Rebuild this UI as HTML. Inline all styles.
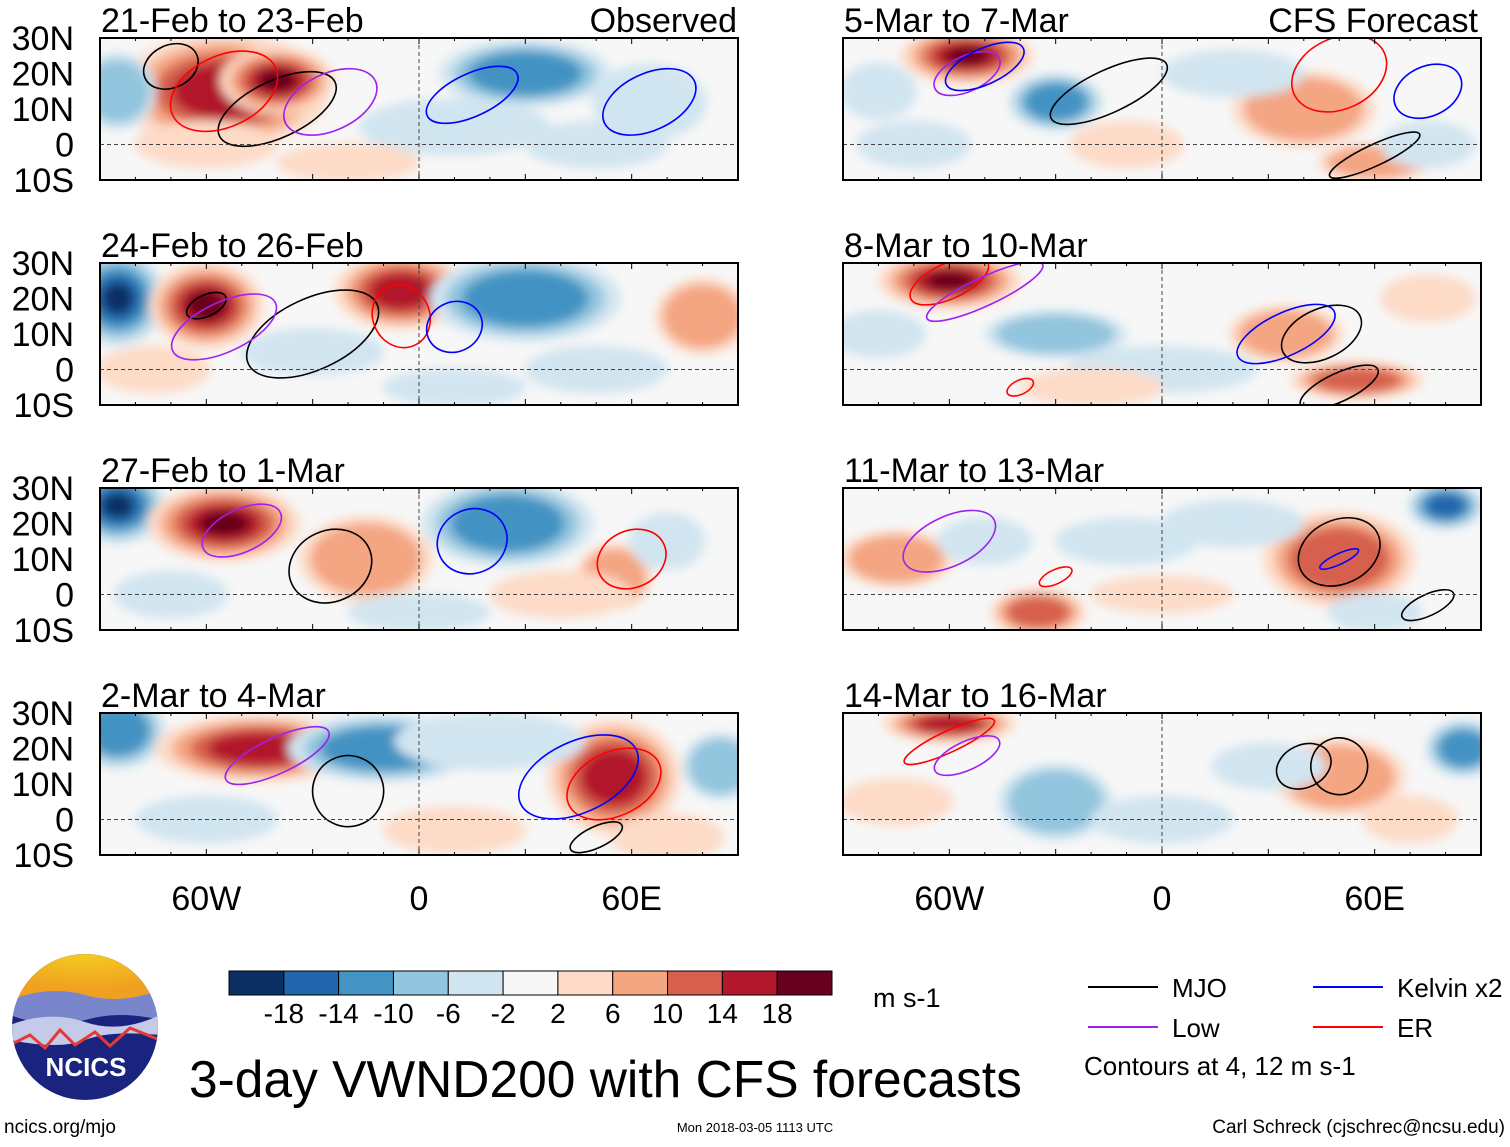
<!DOCTYPE html>
<html><head><meta charset="utf-8">
<style>
body{margin:0;background:#fff;}
svg text{font-family:"Liberation Sans",sans-serif;}
</style></head>
<body>
<svg id="c" width="1510" height="1142" viewBox="0 0 1510 1142" xmlns="http://www.w3.org/2000/svg">
<defs>
<filter id="bl" x="-50%" y="-50%" width="200%" height="200%"><feGaussianBlur stdDeviation="5"/></filter>
<radialGradient id="sky" cx="50%" cy="0%" r="80%"><stop offset="0" stop-color="#f5d020"/><stop offset="1" stop-color="#f0a020"/></radialGradient>
</defs>
</svg>
<script>
const titles=["21-Feb to 23-Feb","24-Feb to 26-Feb","27-Feb to 1-Mar","2-Mar to 4-Mar","5-Mar to 7-Mar","8-Mar to 10-Mar","11-Mar to 13-Mar","14-Mar to 16-Mar"];
const latTicks=["30N","20N","10N","0","10S"];
const lonTicks=["60W","0","60E"];
const cbLabels=["-18","-14","-10","-6","-2","2","6","10","14","18"];
const cbColors=["#0b2f63","#2166ac","#4393c3","#92c5de","#d1e5f0","#f7f7f7","#fddbc7","#f4a582","#d6604d","#b2182b","#67001f"];
// anomaly blobs per panel: lon, lat, rx(deg), ry(deg), value
const blobLon=[[-55,-40,-85,30,65,10,-60,50,-20],[-85,-60,-5,30,80,-30,50,-75,10],[-85,-55,-15,25,55,70,-70,40,0],[-85,-45,-10,55,85,20,-60,10,70],[-55,-30,40,60,-80,20,-10,-70,75],[-60,55,35,-30,0,-80,75,-20],[50,-35,80,-75,-10,20,-50,0,60],[-60,50,-30,85,30,-75,0,70]];
const blobLat=[[15,18,15,20,12,5,0,0,-5],[20,18,22,20,15,5,0,0,-5],[25,20,10,20,5,15,0,0,-5],[25,20,20,12,15,22,0,-3,-5],[25,12,10,-5,15,20,0,0,0],[25,-3,10,10,0,10,20,-5],[10,-5,25,10,15,20,15,0,-5],[27,12,5,20,15,5,0,0]];
const blobRx=[[22,12,8,18,12,20,15,15,15],[10,12,14,20,10,15,15,12,15],[10,16,14,18,8,8,12,15,15],[10,22,20,14,8,20,15,15,12],[14,10,15,12,8,15,12,12,10],[15,14,12,15,20,10,10,15],[16,10,8,12,15,15,10,15,10],[14,14,12,8,12,12,15,10]];
const blobRy=[[12,7,8,7,8,6,5,5,4],[10,9,8,9,8,5,5,5,4],[8,8,9,9,7,6,5,5,4],[8,7,7,12,7,6,5,5,5],[6,6,8,4,6,5,5,5,5],[6,4,6,5,5,5,5,4],[10,5,5,6,5,5,5,4,4],[4,8,8,6,5,5,5,5]];
const blobVal=[[14,18,-6,-10,-3,-3,4,-3,3],[-18,18,14,-10,6,-3,-3,3,-3],[-18,18,6,-10,6,-3,-3,4,-3],[-10,14,-10,14,-6,-3,-3,4,3],[18,-10,6,6,-3,-3,3,-3,-3],[18,10,6,-6,-3,-3,3,3],[10,10,-14,6,-3,-3,-3,3,-3],[14,6,-6,-10,-3,4,-3,3]];
// contours: lon, lat, rx, ry, type(0 MJO,1 Low,2 Kelvin,3 ER)
const ctLon=[[-40,-70,-25,-55,15,65],[-30,-60,-5,10,-55],[-25,-50,15,60],[-20,-40,55,50,45],[-15,-55,-50,60,50,75],[45,-60,-50,35,50,-40],[50,-60,50,75,-30],[50,-60,-55,40]];
const ctLat=[[10,22,12,15,14,12],[10,18,15,12,12],[8,18,15,10],[8,18,10,-5,12],[15,20,22,-3,20,15],[10,25,22,10,-5,-5],[12,15,10,-3,5],[15,22,18,15]];
const ctRx=[[18,8,14,16,14,14],[20,6,8,8,16],[12,12,10,10],[10,16,14,8,18],[18,10,12,14,14,10],[12,12,18,15,12,4],[12,14,6,8,5],[8,14,10,8]];
const ctRy=[[8,6,8,10,6,8],[10,3,9,7,7],[10,6,9,8],[10,5,9,3,10],[6,5,5,3,10,7],[7,5,4,6,4,2],[9,7,1.5,3,2],[8,3,4,6]];
const ctType=[[0,0,1,3,2,2],[0,0,3,2,1],[0,1,2,3],[0,1,3,0,2],[0,1,2,0,3,2],[0,3,1,2,0,3],[0,1,2,0,3],[0,3,1,0]];
const ctColors=["#000","#a020f0","#0000ff","#ff0000"];
const NS="http://www.w3.org/2000/svg";
const svg=document.getElementById('c');
function mk(t,a,p){const e=document.createElementNS(NS,t);for(const k in a)e.setAttribute(k,a[k]);(p||svg).appendChild(e);return e;}
function colorOf(v){const edges=[-18,-14,-10,-6,-2,2,6,10,14,18];let i=0;while(i<edges.length&&v>edges[i])i++;return cbColors[i];}
const pw=638,ph=142;
const xs=[100,843],ys=[38,263,488,713];
function X(p,lon){return xs[Math.floor(p/4)]+(lon+90)/180*pw;}
function Y(p,lat){return ys[p%4]+(30-lat)/40*ph;}
for(let p=0;p<8;p++){
 const x0=xs[Math.floor(p/4)],y0=ys[p%4];
 const g=mk('g',{});
 
 
 const cid='clip'+p;
 const cp=mk('clipPath',{id:cid},svg);mk('rect',{x:x0,y:y0,width:pw,height:ph},cp);
 const inner=mk('g',{'clip-path':'url(#'+cid+')'},g);
 mk('rect',{x:x0,y:y0,width:pw,height:ph,fill:'#f7f7f7'},inner);
 const bg=mk('g',{filter:'url(#bl)'},inner);
 for(let i=0;i<blobLon[p].length;i++){
  const v=blobVal[p][i],lon=blobLon[p][i],lat=blobLat[p][i];
  const rx=blobRx[p][i]*pw/180*1.35,ry=blobRy[p][i]*ph/40*1.35;
  const s=Math.sign(v);
  const levels=[3,7,11,15,19].filter(l=>l<=Math.abs(v)+1);
  levels.forEach((l,k)=>{
   const f=1-k*0.17;
   const el=mk('ellipse',{cx:X(p,lon),cy:Y(p,lat),rx:rx*f,ry:ry*f,fill:colorOf(s*l)},bg);
   
   
  });
 }
 for(let i=0;i<ctLon[p].length;i++){
  const el=mk('ellipse',{cx:X(p,ctLon[p][i]),cy:Y(p,ctLat[p][i]),rx:ctRx[p][i]*pw/180,ry:ctRy[p][i]*ph/40,fill:'none',stroke:ctColors[ctType[p][i]],'stroke-width':1.6,transform:'rotate(-25 '+X(p,ctLon[p][i])+' '+Y(p,ctLat[p][i])+')'},inner);
  
  
 }
 mk('line',{x1:x0,x2:x0+pw,y1:Y(p,0),y2:Y(p,0),stroke:'#444','stroke-dasharray':'4,3','stroke-width':1},inner);
 mk('line',{x1:X(p,0),x2:X(p,0),y1:y0,y2:y0+ph,stroke:'#444','stroke-dasharray':'4,3','stroke-width':1},inner);
 mk('rect',{x:x0,y:y0,width:pw,height:ph,fill:'none',stroke:'#000','stroke-width':2},g);
 for(let lon=-90;lon<=90;lon+=10){const tx=X(p,lon);mk('line',{x1:tx,x2:tx,y1:y0,y2:y0+(lon%30?3:6),stroke:'#000'},g);mk('line',{x1:tx,x2:tx,y1:y0+ph,y2:y0+ph-(lon%30?3:6),stroke:'#000'},g);}
 const t=mk('text',{x:x0+1,y:y0-6,'font-size':34},g);t.textContent=titles[p];
 
 
 if(p<4){latTicks.forEach((l,k)=>{const tt=mk('text',{x:74,y:y0+12+k*35.5,'font-size':34,'text-anchor':'end'},g);tt.textContent=l;});}
}
[["Observed",737],["CFS Forecast",1478]].forEach(([s,x])=>{const t=mk('text',{x:x,y:32,'font-size':34,'text-anchor':'end'});t.textContent=s;});
[0,1].forEach(c=>{lonTicks.forEach((l,k)=>{const t=mk('text',{x:X(c*4+3,(k-1)*60),y:910,'font-size':34,'text-anchor':'middle'});t.textContent=l;});});
// colorbar
const cbx=229,cbw=603/11;
cbColors.forEach((col,i)=>{const r=mk('rect',{x:cbx+i*cbw,y:971,width:cbw,height:24,fill:col,stroke:'#000'});});
cbLabels.forEach((l,i)=>{const t=mk('text',{x:cbx+(i+1)*cbw,y:1023,'font-size':28,'text-anchor':'middle'});t.textContent=l;});
let t=mk('text',{x:873,y:1007,'font-size':27});t.textContent="m s-1";
// legend
const lg=[["MJO",1088,987,0],["Low",1088,1027,1],["Kelvin x2",1313,987,2],["ER",1313,1027,3]];
lg.forEach(([s,x,y,c])=>{mk('line',{x1:x,x2:x+70,y1:y,y2:y,stroke:ctColors[c],'stroke-width':2});const tt=mk('text',{x:x+84,y:y+10,'font-size':26});tt.textContent=s;});
t=mk('text',{x:1084,y:1075,'font-size':26});t.textContent="Contours at 4, 12 m s-1";
t=mk('text',{x:189,y:1097,'font-size':51.5});t.textContent="3-day VWND200 with CFS forecasts";
t=mk('text',{x:4,y:1133,'font-size':19});t.textContent="ncics.org/mjo";
t=mk('text',{x:755,y:1132,'font-size':13,'text-anchor':'middle'});t.textContent="Mon 2018-03-05 1113 UTC";
t=mk('text',{x:1505,y:1133,'font-size':19,'text-anchor':'end'});t.textContent="Carl Schreck (cjschrec@ncsu.edu)";
// logo
const lgG=mk('g',{});
const lc=mk('clipPath',{id:'lclip'});mk('circle',{cx:85,cy:1027,r:73},lc);
const li=mk('g',{'clip-path':'url(#lclip)'},lgG);
mk('rect',{x:10,y:950,width:150,height:160,fill:'#1a237e'},li);
mk('rect',{x:10,y:950,width:150,height:50,fill:'url(#sky)'},li);
mk('path',{d:'M10 1000 Q50 985 85 995 T160 990 L160 1020 Q120 1010 85 1020 T10 1015Z',fill:'#7986cb'},li);
mk('path',{d:'M10 1025 Q50 1010 85 1022 T160 1015 L160 1035 Q110 1030 85 1040 T10 1040Z',fill:'#c5cae9'},li);
mk('path',{d:'M10 1045 L30 1035 L45 1048 L60 1030 L75 1045 L95 1032 L110 1046 L130 1028 L160 1040',fill:'none',stroke:'#e53935','stroke-width':3},li);
t=mk('text',{x:86,y:1076,'font-size':26,'font-weight':'bold',fill:'#fff','text-anchor':'middle'},lgG);t.textContent="NCICS";
</script>
</body></html>
